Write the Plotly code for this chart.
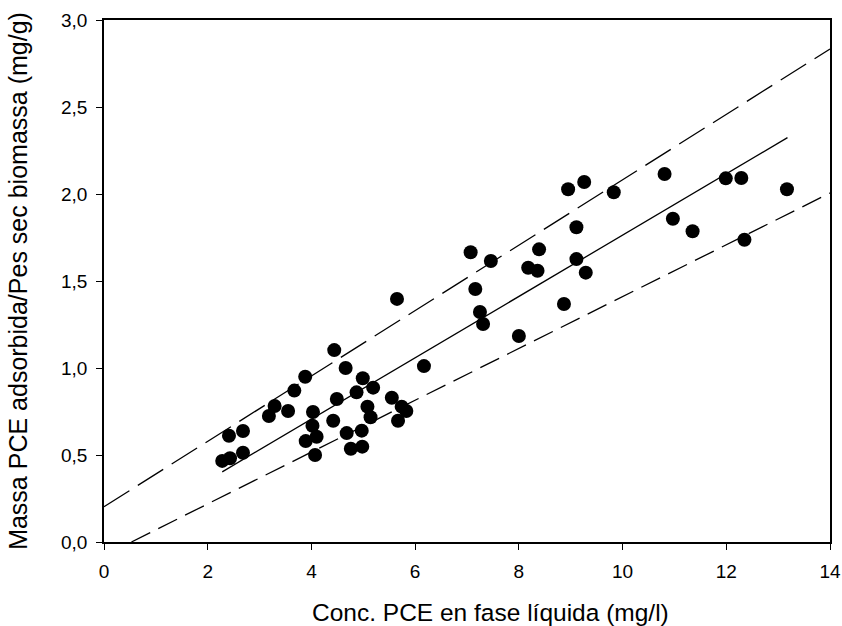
import plotly.graph_objects as go
import numpy as np

# Data
conc_pce = [2.28, 2.43, 2.68, 2.41, 2.68, 3.18, 3.29, 3.55, 3.67, 3.88,
            4.44, 4.66, 4.03, 4.02, 3.89, 4.10, 4.07, 4.42, 4.49, 4.68,
            4.76, 4.98, 4.97, 4.87, 4.99, 5.19, 5.08, 5.14, 5.55, 5.74,
            5.83, 5.67, 6.17, 5.65, 7.07, 7.46, 8.39, 8.18, 8.36, 9.11,
            9.29, 7.16, 7.25, 7.31, 8.00, 8.87, 8.95, 9.26, 9.83, 9.11,
            10.81, 11.99, 12.29, 13.17, 10.97, 11.35, 12.35]
massa_ads = [0.466, 0.481, 0.513, 0.611, 0.638, 0.724, 0.782, 0.753, 0.870, 0.950,
             1.103, 1.000, 0.747, 0.668, 0.580, 0.605, 0.500, 0.697, 0.822, 0.626,
             0.536, 0.548, 0.640, 0.860, 0.941, 0.887, 0.778, 0.717, 0.829, 0.778,
             0.753, 0.697, 1.011, 1.397, 1.665, 1.615, 1.682, 1.576, 1.559, 1.626,
             1.548, 1.454, 1.322, 1.253, 1.184, 1.368, 2.027, 2.069, 2.010, 1.809,
             2.115, 2.090, 2.092, 2.027, 1.858, 1.786, 1.737]

# Regression line and band lines (slope, intercept, x-start, x-end)
reg_line = (0.1762, 0.0016, 2.28, 13.18)
upper_line = (0.1879, 0.203, 0.0, 14.0)
lower_line = (0.1489, -0.0788, 0.529, 14.0)

x_ticks = [0, 2, 4, 6, 8, 10, 12, 14]
y_ticks = [0.0, 0.5, 1.0, 1.5, 2.0, 2.5, 3.0]
y_ticktext = ["0,0", "0,5", "1,0", "1,5", "2,0", "2,5", "3,0"]

x_title = "Conc. PCE en fase líquida (mg/l)"
y_title = "Massa PCE adsorbida/Pes sec biomassa (mg/g)"


def line_pts(p):
    s, b, x0, x1 = p
    xs = np.array([x0, x1])
    return xs, s * xs + b


fig = go.Figure()

for p, dash in [(upper_line, "30px,10px"), (lower_line, "21px,9px")]:
    xs, ys = line_pts(p)
    fig.add_trace(go.Scatter(x=xs, y=ys, mode="lines",
                             line=dict(color="black", width=1.3, dash=dash),
                             showlegend=False, hoverinfo="skip"))

xs, ys = line_pts(reg_line)
fig.add_trace(go.Scatter(x=xs, y=ys, mode="lines",
                         line=dict(color="black", width=1.3),
                         showlegend=False, hoverinfo="skip"))

fig.add_trace(go.Scatter(x=conc_pce, y=massa_ads, mode="markers",
                         marker=dict(color="black", size=14, line=dict(width=0)),
                         showlegend=False))

font_family = "Liberation Sans, Arial, sans-serif"

fig.update_layout(
    width=842, height=626,
    margin=dict(l=104, r=12, t=20, b=84),
    plot_bgcolor="white", paper_bgcolor="white",
    font=dict(family=font_family, color="black", size=19),
    showlegend=False,
    annotations=[dict(text=x_title, xref="paper", yref="paper",
                      x=0.533, y=-0.136, xanchor="center", yanchor="middle",
                      showarrow=False, font=dict(size=24.5))],
)

fig.update_xaxes(
    range=[0, 14], tickvals=x_ticks, ticktext=[str(v) for v in x_ticks],
    ticks="outside", ticklen=6, tickwidth=1.3, tickcolor="black",
    showline=True, linecolor="black", linewidth=1.5, mirror=True,
    showgrid=False, zeroline=False, automargin=False,
    tickfont=dict(size=19), ticklabelstandoff=5,
)
fig.update_yaxes(
    range=[0, 3], tickvals=y_ticks, ticktext=y_ticktext,
    ticks="outside", ticklen=6, tickwidth=1.3, tickcolor="black",
    showline=True, linecolor="black", linewidth=1.5, mirror=True,
    showgrid=False, zeroline=False, automargin=False,
    tickfont=dict(size=19), ticklabelstandoff=5,
    title=dict(text=y_title, font=dict(size=25), standoff=26),
)

fig.write_html("out.html")
